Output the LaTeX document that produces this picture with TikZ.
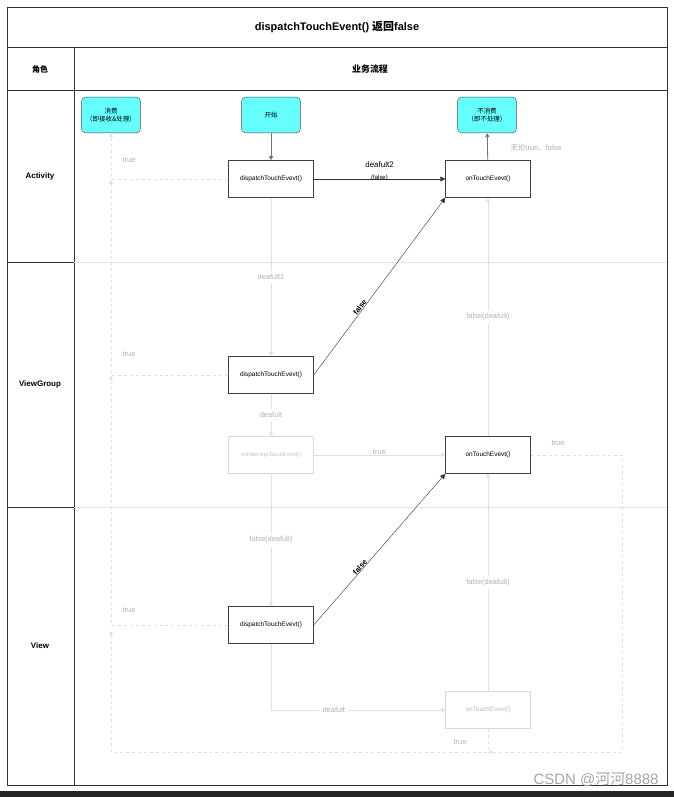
\documentclass[tikz,border=0pt]{standalone}
\usepackage{fontspec}
\setmainfont{Liberation Sans}
\newfontfamily\cjk{Noto Sans CJK SC}
\usetikzlibrary{arrows.meta, positioning, calc}
\definecolor{termcyan}{RGB}{102,255,255}
\tikzset{
  node_font/.style = {font=\fontsize{6.5}{8}\selectfont},
  label_font/.style = {font=\fontsize{7.5}{9}\selectfont},
  lane_font/.style = {font=\fontsize{8}{10}\selectfont\bfseries},
  func/.style = {node_font, draw=black!75, thick, minimum width=85, minimum height=37, inner sep=1},
  func_off/.style = {func, draw=black!15, text=black!25, thin},
  terminal/.style = {node_font, draw=black!70, fill=termcyan, rounded corners=4, minimum width=59, minimum height=36, align=center, inner sep=1},
  flow/.style = {draw=black!55, thick, -{Triangle[length=4,width=4]}},
  flow_on/.style = {draw=black!80, -{Triangle[length=5,width=5]}},
  flow_off/.style = {draw=black!12, -{Triangle[length=4,width=4]}},
  back_off/.style = {flow_off, dashed},
  tag/.style = {label_font, text=black!30},
  tag_on/.style = {label_font, text=black}
}
\begin{document}
\begin{tikzpicture}[x=1bp, y=-1bp]
  \useasboundingbox (0,0) rectangle (674,797);
  \fill[white] (0,0) rectangle (674,797);
  \fill[black!85] (0,791) rectangle (674,797);

  % Frame and lanes
  \draw[black!80] (7,7) rectangle (667,785);
  \draw[black!80] (7,47) -- (667,47);
  \draw[black!80] (7,90) -- (667,90);
  \draw[black!80] (74,47) -- (74,785);
  \draw[black!80] (7,262) -- (74,262);
  \draw[black!80] (7,507) -- (74,507);
  \draw[black!10] (74,262) -- (667,262);
  \draw[black!10] (74,507) -- (667,507);

  \node[font=\fontsize{11}{13}\selectfont\bfseries] (title) at (337,27) {dispatchTouchEvent() {\cjk 返回}false};
  \node[lane_font] (role) at (40,69) {\cjk 角色};
  \node[lane_font, font=\fontsize{9}{11}\selectfont\bfseries] (process) at (370,69) {\cjk 业务流程};
  \node[lane_font] (l_act) at (40,176) {Activity};
  \node[lane_font] (l_vg) at (40,384) {ViewGroup};
  \node[lane_font] (l_view) at (40,646) {View};

  % Terminals
  \node[terminal] (consume) at (111,115) {\cjk 消费\\\cjk（即接收\&处理）};
  \node[terminal] (start) at (271,115) {\cjk 开始};
  \node[terminal] (no_consume) at (487,115) {\cjk 不消费\\\cjk（即不处理）};

  % Functions
  \node[func] (act_disp) at (271,179) {dispatchTouchEvevt()};
  \node[func] (act_touch) at (488,179) {onTouchEvevt()};
  \node[func] (vg_disp) at (271,375) {dispatchTouchEvevt()};
  \node[func_off, font=\fontsize{5.5}{7}\selectfont] (vg_icpt) at (271,455) {onInterceptTouchEvent()};
  \node[func] (vg_touch) at (488,455) {onTouchEvevt()};
  \node[func] (view_disp) at (271,625) {dispatchTouchEvevt()};
  \node[func_off] (view_touch) at (488,710) {onTouchEvevt()};

  % Activity
  \draw[flow] (start) -- (act_disp);
  \draw[flow_on, thick] (act_disp) -- (act_touch)
    node[midway, above=5, tag_on, align=center, font=\fontsize{8}{12}\selectfont] {deafult2\\{\fontsize{6}{7}\selectfont(false)}};
  \draw[flow] (act_touch) -- (no_consume);
  \node[tag, anchor=west] (any) at (507,148) {{\cjk 无论}true{\cjk 、}false};
  \draw[back_off] (act_disp.west) -| (consume.south);
  \node[tag] (t_act) at (129,160) {true};

  % ViewGroup
  \draw[flow_off] (act_disp) -- (vg_disp) node[pos=0.5, tag, fill=white] {deafult1};
  \draw[flow_on] (vg_disp.east) -- (act_touch.south west)
    node[pos=0.37, sloped, above=3, tag_on, font=\fontsize{7.5}{9}\selectfont\bfseries] {false};
  \coordinate (vg_back) at (111,180);
  \draw[back_off] (vg_disp.west) -| (vg_back);
  \node[tag] (t_vg) at (129,354) {true};
  \draw[flow_off] (vg_disp) -- (vg_icpt) node[pos=0.5, tag, fill=white] {deafult};
  \draw[flow_off] (vg_icpt) -- (vg_touch) node[midway, above=3, tag] {true};
  \draw[flow_off] (vg_touch) -- (act_touch) node[midway, tag, fill=white] {false(deafult)};
  \coordinate (vg_right) at (622,752);
  \coordinate (bottom_mid) at (488,752);
  \draw[back_off] (vg_touch.east) -- (vg_touch.east -| vg_right) -- (vg_right) -- (bottom_mid);
  \node[tag] (t_vg_r) at (558,443) {true};

  % View
  \draw[flow_off] (vg_icpt) -- (view_disp) node[midway, tag, fill=white] {false(deafult)};
  \draw[flow_on] (view_disp.east) -- (vg_touch.south west)
    node[pos=0.37, sloped, above=3, tag_on, font=\fontsize{7.5}{9}\selectfont\bfseries] {false};
  \coordinate (view_back) at (111,376);
  \draw[back_off] (view_disp.west) -| (view_back);
  \node[tag] (t_view) at (129,610) {true};
  \draw[flow_off] (view_disp.south) |- (view_touch.west) node[pos=0.68, tag, fill=white] {deafult};
  \draw[flow_off] (view_touch) -- (vg_touch) node[midway, tag, fill=white] {false(deafult)};
  \coordinate (left_end) at (111,631);
  \draw[back_off] (view_touch.south) -- (bottom_mid) -| (left_end);
  \node[tag] (t_view_b) at (460,742) {true};

  \node[text=black!35, font=\fontsize{15}{17}\selectfont, anchor=south east] (mark) at (662,790) {CSDN @{\cjk 河河}8888};
\end{tikzpicture}
\end{document}
